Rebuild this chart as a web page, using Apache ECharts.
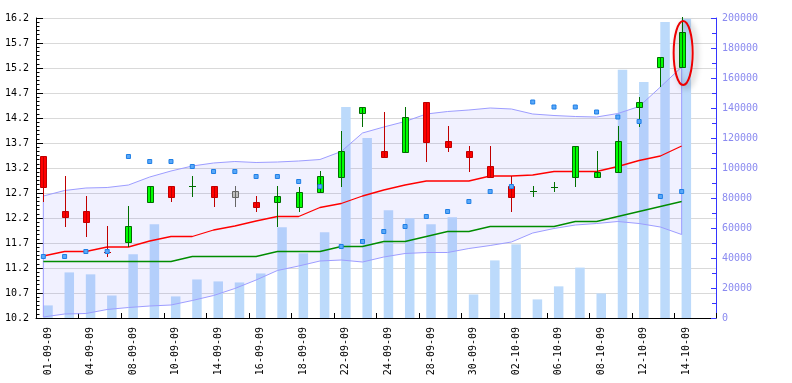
<!DOCTYPE html>
<html><head><meta charset="utf-8">
<script src="https://cdn.jsdelivr.net/npm/echarts@6/dist/echarts.min.js"></script>
<style>html,body{margin:0;padding:0;background:#fff}#c{width:792px;height:383px}</style>
</head><body><div id="c"></div>
<script>
const dates = ['01-09-09','02-09-09','04-09-09','07-09-09','08-09-09','09-09-09','10-09-09','11-09-09',
  '14-09-09','15-09-09','16-09-09','17-09-09','18-09-09','21-09-09','22-09-09','23-09-09','24-09-09',
  '25-09-09','28-09-09','29-09-09','30-09-09','01-10-09','02-10-09','05-10-09','06-10-09','07-10-09',
  '08-10-09','09-10-09','12-10-09','13-10-09','14-10-09'];
const openP  = [13.44,12.34,12.34,11.53,11.72,12.52,12.84,12.84,12.84,12.74,12.52,12.52,12.42,12.73,13.03,14.31,
  13.54,13.53,14.52,13.74,13.54,13.24,12.84,12.74,12.83,13.03,13.03,13.13,14.42,15.22,15.22];
const closeP = [12.83,12.22,12.12,11.53,12.04,12.84,12.62,12.84,12.62,12.62,12.42,12.64,12.73,13.04,13.54,14.42,
  13.43,14.22,13.73,13.63,13.43,13.03,12.62,12.74,12.83,13.64,13.13,13.74,14.52,15.42,15.92];
const lowP   = [12.52,12.02,11.82,11.42,11.62,12.52,12.52,12.62,12.42,12.42,12.32,12.02,12.32,12.73,12.83,14.03,
  13.43,13.53,13.33,13.53,13.13,13.03,12.32,12.62,12.73,12.83,13.03,13.13,14.03,14.82,15.22];
const highP  = [13.44,13.04,12.64,12.04,12.44,12.84,12.84,13.04,12.84,12.84,12.64,12.84,12.83,13.14,13.94,14.42,
  14.32,14.42,14.52,14.04,13.64,13.64,13.04,12.84,12.93,13.64,13.54,14.05,14.62,15.42,16.22];
const volume = [8400,30400,29100,15000,42500,62500,14400,25700,24400,23700,29700,60500,43100,57200,140700,120000,
  71900,66500,62500,67200,15700,38400,49100,12400,21100,33600,16400,165500,157400,197300,199500];
const sar    = [11.43,11.43,11.53,11.53,13.43,13.33,13.33,13.23,13.13,13.13,13.03,13.03,12.93,12.83,11.63,11.73,
  11.93,12.03,12.23,12.33,12.53,12.73,12.83,14.52,14.42,14.42,14.32,14.22,14.13,12.63,12.73];
const maRed  = [11.44,11.53,11.53,11.62,11.62,11.74,11.83,11.83,11.96,12.04,12.14,12.23,12.23,12.41,12.49,12.64,
  12.76,12.86,12.94,12.94,12.94,13.04,13.04,13.06,13.13,13.13,13.13,13.23,13.35,13.44,13.64];
const maGreen= [11.33,11.33,11.33,11.33,11.33,11.33,11.33,11.43,11.43,11.43,11.43,11.53,11.53,11.53,11.63,11.63,
  11.73,11.73,11.83,11.93,11.93,12.03,12.03,12.03,12.03,12.13,12.13,12.23,12.33,12.43,12.53];
const bandUpper = [12.64,12.75,12.80,12.81,12.86,13.02,13.14,13.24,13.30,13.33,13.31,13.32,13.34,13.37,13.53,13.90,
  14.02,14.13,14.28,14.33,14.36,14.40,14.38,14.28,14.25,14.23,14.22,14.29,14.43,14.82,15.22];
const bandLower = [10.22,10.28,10.29,10.37,10.41,10.44,10.46,10.55,10.65,10.79,10.96,11.15,11.24,11.34,11.36,11.32,
  11.42,11.49,11.51,11.51,11.59,11.65,11.72,11.90,11.99,12.06,12.09,12.13,12.09,12.02,11.87];
const priceMin = 10.2, priceMax = 16.2, priceStep = 0.5;
const volMin = 0, volMax = 200000, volStep = 20000;
const noteAt = [30, 15.50];      // annotation ellipse centre (index, price)
const noteHalfSpan = 0.64;       // half height of ellipse in price units

const FONT = 'DejaVu Sans Mono';
const xMin = -0.3445, xMax = 31.614, barShift = 0.22;
const labelIdx = dates.map((d, i) => i).filter(i => i % 2 === 0);

function tone(i) {
  const o = openP[i], c = closeP[i];
  if (i > 0 && c === closeP[i - 1] && o !== c) return 'flat';
  if (c > o) return 'up';
  if (c < o) return 'down';
  return (i > 0 && c < closeP[i - 1]) ? 'down' : 'up';
}
const TONES = {
  up:   { fill: '#00ff00', stroke: '#006e00' },
  down: { fill: '#ff0000', stroke: '#c00000' },
  flat: { fill: '#c0c0c0', stroke: '#666666' }
};

const chart = echarts.init(document.getElementById('c'), null, { renderer: 'canvas' });
chart.setOption({
  animation: false,
  backgroundColor: '#ffffff',
  textStyle: { fontFamily: FONT },
  grid: { left: 36, right: 76, top: 18, bottom: 65, containLabel: false },
  xAxis: [
    { type: 'value', position: 'bottom', min: xMin, max: xMax, interval: 2,
      axisLine: { show: true, onZero: false, lineStyle: { color: '#000', width: 1 } },
      axisTick: { show: true, inside: true, length: 5, lineStyle: { color: '#000' } },
      axisLabel: { show: false }, splitLine: { show: false } },
    { type: 'value', position: 'bottom', min: xMin - barShift, max: xMax - barShift,
      axisLine: { show: false, onZero: false }, axisTick: { show: false }, splitLine: { show: false },
      axisLabel: { show: true, customValues: labelIdx, rotate: 90, margin: 9, fontSize: 10,
        fontFamily: FONT, color: '#000', formatter: v => dates[Math.round(v)] || '' } }
  ],
  yAxis: [
    { type: 'value', position: 'left', min: priceMin, max: priceMax, interval: priceStep,
      axisLine: { show: true, onZero: false, lineStyle: { color: '#000' } },
      axisTick: { show: true, inside: true, length: 7, lineStyle: { color: '#000' } },
      minorTick: { show: true, splitNumber: 6, length: 3.5, lineStyle: { color: '#000' } },
      axisLabel: { margin: 7, fontSize: 10, fontFamily: FONT, color: '#000', formatter: v => v.toFixed(1) },
      splitLine: { show: true, lineStyle: { color: '#d9d9d9', width: 1 } } },
    { type: 'value', position: 'right', min: volMin, max: volMax, interval: volStep,
      axisLine: { show: true, onZero: false, lineStyle: { color: '#3535ff' } },
      axisTick: { show: true, inside: true, length: 5, lineStyle: { color: '#3535ff' } },
      minorTick: { show: true, splitNumber: 2, length: 4, lineStyle: { color: '#3535ff' } },
      axisLabel: { margin: 6, fontSize: 10, fontFamily: FONT, color: '#8a8af0', formatter: v => String(Math.round(v)) },
      splitLine: { show: false } }
  ],
  series: [
    { type: 'bar', name: 'Volume', xAxisIndex: 1, yAxisIndex: 1, z: 1,
      barWidth: 9.5, itemStyle: { color: '#bcdafb' },
      data: volume.map((v, i) => [i, v]) },
    { type: 'custom', name: 'Band', xAxisIndex: 0, yAxisIndex: 0, z: 2, clip: true,
      data: [[0, bandUpper[0]]],
      renderItem: function (params, api) {
        const pts = [];
        for (let i = 0; i < bandUpper.length; i++) pts.push(api.coord([i, bandUpper[i]]));
        for (let i = bandLower.length - 1; i >= 0; i--) pts.push(api.coord([i, bandLower[i]]));
        return { type: 'polygon', shape: { points: pts },
          style: { fill: 'rgba(120,120,255,0.1)', stroke: '#9d9dff', lineWidth: 1 } };
      } },
    { type: 'line', name: 'MA1', xAxisIndex: 0, yAxisIndex: 0, z: 3, symbol: 'none',
      lineStyle: { color: '#ff0000', width: 1.3 }, data: maRed.map((v, i) => [i, v]) },
    { type: 'line', name: 'MA2', xAxisIndex: 0, yAxisIndex: 0, z: 3, symbol: 'none',
      lineStyle: { color: '#008c00', width: 1.3 }, data: maGreen.map((v, i) => [i, v]) },
    { type: 'custom', name: 'Price', xAxisIndex: 0, yAxisIndex: 0, z: 4,
      encode: { x: 0, y: [1, 2, 3, 4] },
      data: dates.map((d, i) => [i, openP[i], closeP[i], lowP[i], highP[i]]),
      renderItem: function (params, api) {
        const i = api.value(0);
        const o = api.value(1), c = api.value(2), l = api.value(3), h = api.value(4);
        const pO = api.coord([i, o]), pC = api.coord([i, c]);
        const pL = api.coord([i, l]), pH = api.coord([i, h]);
        const t = TONES[tone(i)];
        const cx = Math.round(pO[0]) + 0.5;
        const children = [];
        if (o !== c) {
          const top = Math.round(Math.min(pO[1], pC[1])) + 0.5;
          const bot = Math.round(Math.max(pO[1], pC[1])) + 0.5;
          children.push({ type: 'rect', shape: { x: cx - 3, y: top, width: 6, height: Math.max(bot - top, 1) },
            style: { fill: t.fill, stroke: t.stroke, lineWidth: 1 } });
        } else {
          const yy = Math.round(pO[1]) + 0.5;
          children.push({ type: 'line', shape: { x1: cx - 3.5, y1: yy, x2: cx + 3.5, y2: yy },
            style: { stroke: t.stroke, lineWidth: 1 } });
        }
        children.push({ type: 'line', shape: { x1: cx, y1: Math.round(pH[1]), x2: cx, y2: Math.round(pL[1]) },
          style: { stroke: t.stroke, lineWidth: 1 } });
        return { type: 'group', children: children };
      } },
    { type: 'scatter', name: 'SAR', xAxisIndex: 0, yAxisIndex: 0, z: 5,
      symbol: 'rect', symbolSize: 4,
      itemStyle: { color: '#5aa8f8', borderColor: '#1f7fe6', borderWidth: 1, opacity: 1 },
      data: sar.map((v, i) => [i, v]) },
    { type: 'custom', name: 'Note', xAxisIndex: 0, yAxisIndex: 0, z: 6, clip: false,
      data: [noteAt],
      renderItem: function (params, api) {
        const c = api.coord([api.value(0), api.value(1)]);
        const t = api.coord([api.value(0), api.value(1) + noteHalfSpan]);
        return { type: 'ellipse', shape: { cx: c[0] + 1.5, cy: c[1], rx: 9.5, ry: c[1] - t[1] },
          style: { fill: null, stroke: '#ee0000', lineWidth: 2,
            shadowBlur: 6, shadowColor: 'rgba(0,0,0,0.4)', shadowOffsetX: 3, shadowOffsetY: 2 } };
      } }
  ]
});
</script>
</body></html>
